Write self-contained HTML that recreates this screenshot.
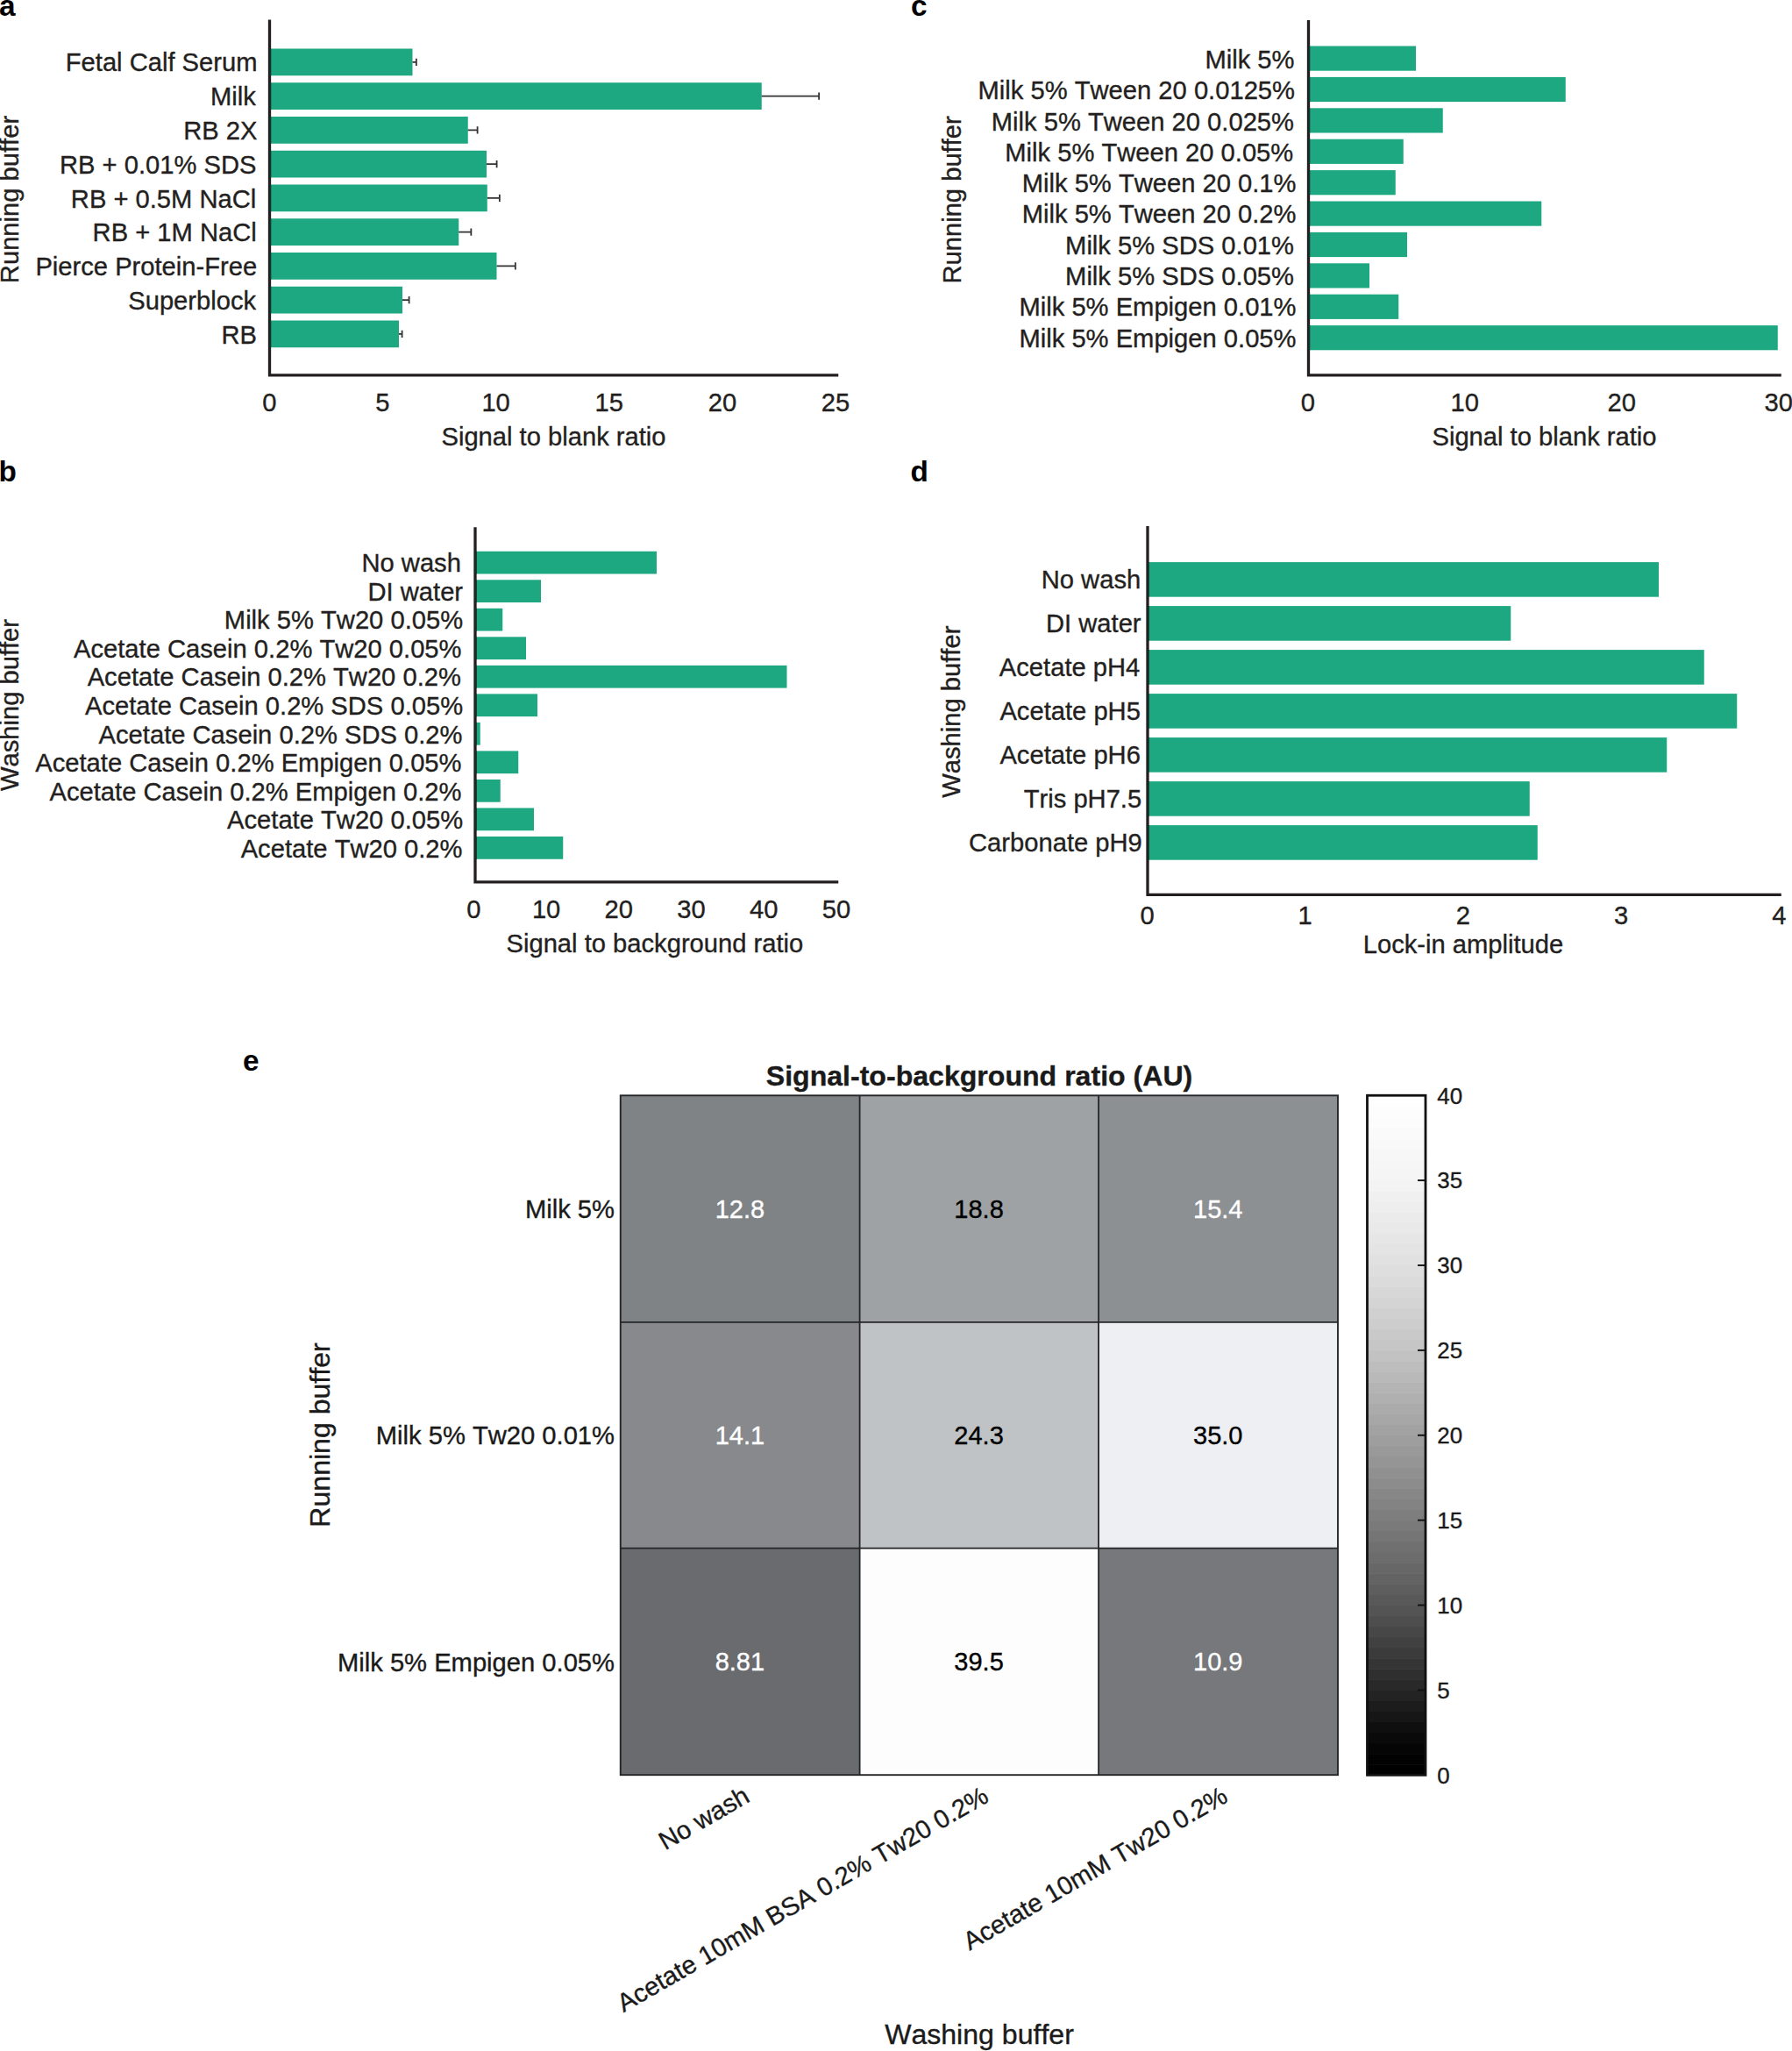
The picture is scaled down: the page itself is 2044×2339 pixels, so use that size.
<!DOCTYPE html>
<html lang="en"><head><meta charset="utf-8"><title>Figure</title>
<style>
html,body{margin:0;padding:0;background:#fff;}
body{width:2044px;height:2339px;overflow:hidden;}
svg{display:block;font-family:"Liberation Sans",Arial,Helvetica,sans-serif;font-kerning:none;}
text{stroke-width:0.35px;paint-order:stroke fill;}
</style></head><body>
<svg width="2044" height="2339" viewBox="0 0 2044 2339">
<rect width="2044" height="2339" fill="#ffffff"/>
<text x="-0.90" y="17.60" font-size="33.33" text-anchor="start" font-weight="700" fill="#000" stroke="#000" style="stroke-width:0">a</text>
<rect x="307.50" y="55.50" width="163.00" height="30.75" fill="#1da882"/>
<path d="M470.50,70.90 H474.85 M474.85,66.70 V75.10" stroke="#333" stroke-width="1.8" fill="none"/>
<text x="293.50" y="81.30" font-size="29.17" text-anchor="end" fill="#231f20" stroke="#231f20">Fetal Calf Serum</text>
<rect x="307.50" y="94.25" width="561.25" height="30.75" fill="#1da882"/>
<path d="M868.75,109.65 H934.10 M934.10,105.45 V113.85" stroke="#333" stroke-width="1.8" fill="none"/>
<text x="291.75" y="120.10" font-size="29.17" text-anchor="end" fill="#231f20" stroke="#231f20">Milk</text>
<rect x="307.50" y="133.00" width="226.25" height="30.75" fill="#1da882"/>
<path d="M533.75,148.40 H544.60 M544.60,144.20 V152.60" stroke="#333" stroke-width="1.8" fill="none"/>
<text x="293.50" y="158.90" font-size="29.17" text-anchor="end" fill="#231f20" stroke="#231f20">RB 2X</text>
<rect x="307.50" y="171.75" width="247.50" height="30.75" fill="#1da882"/>
<path d="M555.00,187.15 H566.60 M566.60,182.95 V191.35" stroke="#333" stroke-width="1.8" fill="none"/>
<text x="292.40" y="197.70" font-size="29.17" text-anchor="end" fill="#231f20" stroke="#231f20">RB + 0.01% SDS</text>
<rect x="307.50" y="210.50" width="248.25" height="30.75" fill="#1da882"/>
<path d="M555.75,225.90 H569.85 M569.85,221.70 V230.10" stroke="#333" stroke-width="1.8" fill="none"/>
<text x="292.30" y="236.50" font-size="29.17" text-anchor="end" fill="#231f20" stroke="#231f20">RB + 0.5M NaCl</text>
<rect x="307.50" y="249.25" width="215.75" height="30.75" fill="#1da882"/>
<path d="M523.25,264.65 H537.35 M537.35,260.45 V268.85" stroke="#333" stroke-width="1.8" fill="none"/>
<text x="292.75" y="275.30" font-size="29.17" text-anchor="end" fill="#231f20" stroke="#231f20">RB + 1M NaCl</text>
<rect x="307.50" y="288.00" width="259.00" height="30.75" fill="#1da882"/>
<path d="M566.50,303.40 H587.85 M587.85,299.20 V307.60" stroke="#333" stroke-width="1.8" fill="none"/>
<text x="293.20" y="314.10" font-size="29.17" text-anchor="end" fill="#231f20" stroke="#231f20">Pierce Protein-Free</text>
<rect x="307.50" y="326.75" width="151.50" height="30.75" fill="#1da882"/>
<path d="M459.00,342.15 H466.60 M466.60,337.95 V346.35" stroke="#333" stroke-width="1.8" fill="none"/>
<text x="292.10" y="352.90" font-size="29.17" text-anchor="end" fill="#231f20" stroke="#231f20">Superblock</text>
<rect x="307.50" y="365.50" width="147.50" height="30.75" fill="#1da882"/>
<path d="M455.00,380.90 H458.60 M458.60,376.70 V385.10" stroke="#333" stroke-width="1.8" fill="none"/>
<text x="293.00" y="391.70" font-size="29.17" text-anchor="end" fill="#231f20" stroke="#231f20">RB</text>
<path d="M307.50,22.50 V427.80 H956.25" fill="none" stroke="#231f20" stroke-width="3.3" stroke-linejoin="miter"/>
<rect x="307.85" y="55.50" width="1.3" height="30.75" fill="#10392e"/>
<rect x="307.85" y="94.25" width="1.3" height="30.75" fill="#10392e"/>
<rect x="307.85" y="133.00" width="1.3" height="30.75" fill="#10392e"/>
<rect x="307.85" y="171.75" width="1.3" height="30.75" fill="#10392e"/>
<rect x="307.85" y="210.50" width="1.3" height="30.75" fill="#10392e"/>
<rect x="307.85" y="249.25" width="1.3" height="30.75" fill="#10392e"/>
<rect x="307.85" y="288.00" width="1.3" height="30.75" fill="#10392e"/>
<rect x="307.85" y="326.75" width="1.3" height="30.75" fill="#10392e"/>
<rect x="307.85" y="365.50" width="1.3" height="30.75" fill="#10392e"/>
<text x="307.30" y="469.20" font-size="29.17" text-anchor="middle" fill="#231f20" stroke="#231f20">0</text>
<text x="436.45" y="469.20" font-size="29.17" text-anchor="middle" fill="#231f20" stroke="#231f20">5</text>
<text x="565.60" y="469.20" font-size="29.17" text-anchor="middle" fill="#231f20" stroke="#231f20">10</text>
<text x="694.75" y="469.20" font-size="29.17" text-anchor="middle" fill="#231f20" stroke="#231f20">15</text>
<text x="823.90" y="469.20" font-size="29.17" text-anchor="middle" fill="#231f20" stroke="#231f20">20</text>
<text x="953.05" y="469.20" font-size="29.17" text-anchor="middle" fill="#231f20" stroke="#231f20">25</text>
<text x="631.50" y="508.00" font-size="29.17" text-anchor="middle" fill="#231f20" stroke="#231f20">Signal to blank ratio</text>
<text transform="translate(21.10,227.50) rotate(-90)" font-size="29.17" text-anchor="middle" fill="#231f20" stroke="#231f20">Running buffer</text>
<text x="1039.00" y="18.00" font-size="33.33" text-anchor="start" font-weight="700" fill="#000" stroke="#000" style="stroke-width:0">c</text>
<rect x="1492.50" y="52.50" width="122.50" height="28.20" fill="#1da882"/>
<text x="1476.50" y="78.00" font-size="29.17" text-anchor="end" fill="#231f20" stroke="#231f20">Milk 5%</text>
<rect x="1492.50" y="87.90" width="293.25" height="28.20" fill="#1da882"/>
<text x="1477.00" y="113.28" font-size="29.17" text-anchor="end" fill="#231f20" stroke="#231f20">Milk 5% Tween 20 0.0125%</text>
<rect x="1492.50" y="123.30" width="153.25" height="28.20" fill="#1da882"/>
<text x="1476.00" y="148.56" font-size="29.17" text-anchor="end" fill="#231f20" stroke="#231f20">Milk 5% Tween 20 0.025%</text>
<rect x="1492.50" y="158.70" width="108.25" height="28.20" fill="#1da882"/>
<text x="1475.25" y="183.84" font-size="29.17" text-anchor="end" fill="#231f20" stroke="#231f20">Milk 5% Tween 20 0.05%</text>
<rect x="1492.50" y="194.10" width="99.25" height="28.20" fill="#1da882"/>
<text x="1478.50" y="219.12" font-size="29.17" text-anchor="end" fill="#231f20" stroke="#231f20">Milk 5% Tween 20 0.1%</text>
<rect x="1492.50" y="229.50" width="265.75" height="28.20" fill="#1da882"/>
<text x="1478.50" y="254.40" font-size="29.17" text-anchor="end" fill="#231f20" stroke="#231f20">Milk 5% Tween 20 0.2%</text>
<rect x="1492.50" y="264.90" width="112.50" height="28.20" fill="#1da882"/>
<text x="1476.00" y="289.68" font-size="29.17" text-anchor="end" fill="#231f20" stroke="#231f20">Milk 5% SDS 0.01%</text>
<rect x="1492.50" y="300.30" width="69.50" height="28.20" fill="#1da882"/>
<text x="1476.00" y="324.96" font-size="29.17" text-anchor="end" fill="#231f20" stroke="#231f20">Milk 5% SDS 0.05%</text>
<rect x="1492.50" y="335.70" width="102.75" height="28.20" fill="#1da882"/>
<text x="1478.50" y="360.24" font-size="29.17" text-anchor="end" fill="#231f20" stroke="#231f20">Milk 5% Empigen 0.01%</text>
<rect x="1492.50" y="371.10" width="535.25" height="28.20" fill="#1da882"/>
<text x="1478.50" y="395.52" font-size="29.17" text-anchor="end" fill="#231f20" stroke="#231f20">Milk 5% Empigen 0.05%</text>
<path d="M1492.50,23.00 V427.80 H2031.75" fill="none" stroke="#231f20" stroke-width="3.3" stroke-linejoin="miter"/>
<rect x="1492.85" y="52.50" width="1.3" height="28.20" fill="#10392e"/>
<rect x="1492.85" y="87.90" width="1.3" height="28.20" fill="#10392e"/>
<rect x="1492.85" y="123.30" width="1.3" height="28.20" fill="#10392e"/>
<rect x="1492.85" y="158.70" width="1.3" height="28.20" fill="#10392e"/>
<rect x="1492.85" y="194.10" width="1.3" height="28.20" fill="#10392e"/>
<rect x="1492.85" y="229.50" width="1.3" height="28.20" fill="#10392e"/>
<rect x="1492.85" y="264.90" width="1.3" height="28.20" fill="#10392e"/>
<rect x="1492.85" y="300.30" width="1.3" height="28.20" fill="#10392e"/>
<rect x="1492.85" y="335.70" width="1.3" height="28.20" fill="#10392e"/>
<rect x="1492.85" y="371.10" width="1.3" height="28.20" fill="#10392e"/>
<text x="1491.80" y="469.30" font-size="29.17" text-anchor="middle" fill="#231f20" stroke="#231f20">0</text>
<text x="1670.80" y="469.30" font-size="29.17" text-anchor="middle" fill="#231f20" stroke="#231f20">10</text>
<text x="1849.80" y="469.30" font-size="29.17" text-anchor="middle" fill="#231f20" stroke="#231f20">20</text>
<text x="2028.80" y="469.30" font-size="29.17" text-anchor="middle" fill="#231f20" stroke="#231f20">30</text>
<text x="1761.50" y="508.00" font-size="29.17" text-anchor="middle" fill="#231f20" stroke="#231f20">Signal to blank ratio</text>
<text transform="translate(1096.10,227.90) rotate(-90)" font-size="29.17" text-anchor="middle" fill="#231f20" stroke="#231f20">Running buffer</text>
<text x="-1.50" y="548.75" font-size="33.33" text-anchor="start" font-weight="700" fill="#000" stroke="#000" style="stroke-width:0">b</text>
<rect x="542.00" y="628.75" width="207.00" height="25.75" fill="#1da882"/>
<text x="525.90" y="652.20" font-size="29.17" text-anchor="end" fill="#231f20" stroke="#231f20">No wash</text>
<rect x="542.00" y="661.27" width="75.00" height="25.75" fill="#1da882"/>
<text x="528.10" y="684.76" font-size="29.17" text-anchor="end" fill="#231f20" stroke="#231f20">DI water</text>
<rect x="542.00" y="693.80" width="31.25" height="25.75" fill="#1da882"/>
<text x="528.10" y="717.32" font-size="29.17" text-anchor="end" fill="#231f20" stroke="#231f20">Milk 5% Tw20 0.05%</text>
<rect x="542.00" y="726.33" width="58.00" height="25.75" fill="#1da882"/>
<text x="526.50" y="749.88" font-size="29.17" text-anchor="end" fill="#231f20" stroke="#231f20">Acetate Casein 0.2% Tw20 0.05%</text>
<rect x="542.00" y="758.85" width="355.50" height="25.75" fill="#1da882"/>
<text x="525.90" y="782.44" font-size="29.17" text-anchor="end" fill="#231f20" stroke="#231f20">Acetate Casein 0.2% Tw20 0.2%</text>
<rect x="542.00" y="791.38" width="71.00" height="25.75" fill="#1da882"/>
<text x="528.10" y="815.00" font-size="29.17" text-anchor="end" fill="#231f20" stroke="#231f20">Acetate Casein 0.2% SDS 0.05%</text>
<rect x="542.00" y="823.90" width="5.75" height="25.75" fill="#1da882"/>
<text x="527.50" y="847.56" font-size="29.17" text-anchor="end" fill="#231f20" stroke="#231f20">Acetate Casein 0.2% SDS 0.2%</text>
<rect x="542.00" y="856.42" width="49.25" height="25.75" fill="#1da882"/>
<text x="526.50" y="880.12" font-size="29.17" text-anchor="end" fill="#231f20" stroke="#231f20">Acetate Casein 0.2% Empigen 0.05%</text>
<rect x="542.00" y="888.95" width="28.75" height="25.75" fill="#1da882"/>
<text x="526.50" y="912.68" font-size="29.17" text-anchor="end" fill="#231f20" stroke="#231f20">Acetate Casein 0.2% Empigen 0.2%</text>
<rect x="542.00" y="921.47" width="67.00" height="25.75" fill="#1da882"/>
<text x="528.10" y="945.24" font-size="29.17" text-anchor="end" fill="#231f20" stroke="#231f20">Acetate Tw20 0.05%</text>
<rect x="542.00" y="954.00" width="100.25" height="25.75" fill="#1da882"/>
<text x="527.50" y="977.80" font-size="29.17" text-anchor="end" fill="#231f20" stroke="#231f20">Acetate Tw20 0.2%</text>
<path d="M542.00,601.25 V1005.90 H956.25" fill="none" stroke="#231f20" stroke-width="3.3" stroke-linejoin="miter"/>
<rect x="542.35" y="628.75" width="1.3" height="25.75" fill="#10392e"/>
<rect x="542.35" y="661.27" width="1.3" height="25.75" fill="#10392e"/>
<rect x="542.35" y="693.80" width="1.3" height="25.75" fill="#10392e"/>
<rect x="542.35" y="726.33" width="1.3" height="25.75" fill="#10392e"/>
<rect x="542.35" y="758.85" width="1.3" height="25.75" fill="#10392e"/>
<rect x="542.35" y="791.38" width="1.3" height="25.75" fill="#10392e"/>
<rect x="542.35" y="823.90" width="1.3" height="25.75" fill="#10392e"/>
<rect x="542.35" y="856.42" width="1.3" height="25.75" fill="#10392e"/>
<rect x="542.35" y="888.95" width="1.3" height="25.75" fill="#10392e"/>
<rect x="542.35" y="921.47" width="1.3" height="25.75" fill="#10392e"/>
<rect x="542.35" y="954.00" width="1.3" height="25.75" fill="#10392e"/>
<text x="540.40" y="1047.10" font-size="29.17" text-anchor="middle" fill="#231f20" stroke="#231f20">0</text>
<text x="623.10" y="1047.10" font-size="29.17" text-anchor="middle" fill="#231f20" stroke="#231f20">10</text>
<text x="705.80" y="1047.10" font-size="29.17" text-anchor="middle" fill="#231f20" stroke="#231f20">20</text>
<text x="788.50" y="1047.10" font-size="29.17" text-anchor="middle" fill="#231f20" stroke="#231f20">30</text>
<text x="871.20" y="1047.10" font-size="29.17" text-anchor="middle" fill="#231f20" stroke="#231f20">40</text>
<text x="953.90" y="1047.10" font-size="29.17" text-anchor="middle" fill="#231f20" stroke="#231f20">50</text>
<text x="746.90" y="1086.25" font-size="29.17" text-anchor="middle" fill="#231f20" stroke="#231f20">Signal to background ratio</text>
<text transform="translate(21.25,804.00) rotate(-90)" font-size="29.17" text-anchor="middle" fill="#231f20" stroke="#231f20">Washing buffer</text>
<text x="1038.50" y="549.25" font-size="33.33" text-anchor="start" font-weight="700" fill="#000" stroke="#000" style="stroke-width:0">d</text>
<rect x="1309.00" y="641.10" width="583.00" height="39.60" fill="#1da882"/>
<text x="1301.20" y="671.40" font-size="29.17" text-anchor="end" fill="#231f20" stroke="#231f20">No wash</text>
<rect x="1309.00" y="691.10" width="414.25" height="39.60" fill="#1da882"/>
<text x="1301.60" y="721.35" font-size="29.17" text-anchor="end" fill="#231f20" stroke="#231f20">DI water</text>
<rect x="1309.00" y="741.10" width="634.75" height="39.60" fill="#1da882"/>
<text x="1300.30" y="771.30" font-size="29.17" text-anchor="end" fill="#231f20" stroke="#231f20">Acetate pH4</text>
<rect x="1309.00" y="791.10" width="672.25" height="39.60" fill="#1da882"/>
<text x="1300.90" y="821.25" font-size="29.17" text-anchor="end" fill="#231f20" stroke="#231f20">Acetate pH5</text>
<rect x="1309.00" y="841.10" width="592.25" height="39.60" fill="#1da882"/>
<text x="1300.90" y="871.20" font-size="29.17" text-anchor="end" fill="#231f20" stroke="#231f20">Acetate pH6</text>
<rect x="1309.00" y="891.10" width="435.75" height="39.60" fill="#1da882"/>
<text x="1302.20" y="921.15" font-size="29.17" text-anchor="end" fill="#231f20" stroke="#231f20">Tris pH7.5</text>
<rect x="1309.00" y="941.10" width="444.75" height="39.60" fill="#1da882"/>
<text x="1302.80" y="971.10" font-size="29.17" text-anchor="end" fill="#231f20" stroke="#231f20">Carbonate pH9</text>
<path d="M1309.00,600.00 V1020.30 H2031.75" fill="none" stroke="#231f20" stroke-width="3.3" stroke-linejoin="miter"/>
<rect x="1309.35" y="641.10" width="1.3" height="39.60" fill="#10392e"/>
<rect x="1309.35" y="691.10" width="1.3" height="39.60" fill="#10392e"/>
<rect x="1309.35" y="741.10" width="1.3" height="39.60" fill="#10392e"/>
<rect x="1309.35" y="791.10" width="1.3" height="39.60" fill="#10392e"/>
<rect x="1309.35" y="841.10" width="1.3" height="39.60" fill="#10392e"/>
<rect x="1309.35" y="891.10" width="1.3" height="39.60" fill="#10392e"/>
<rect x="1309.35" y="941.10" width="1.3" height="39.60" fill="#10392e"/>
<text x="1308.50" y="1053.70" font-size="29.17" text-anchor="middle" fill="#231f20" stroke="#231f20">0</text>
<text x="1488.70" y="1053.70" font-size="29.17" text-anchor="middle" fill="#231f20" stroke="#231f20">1</text>
<text x="1668.90" y="1053.70" font-size="29.17" text-anchor="middle" fill="#231f20" stroke="#231f20">2</text>
<text x="1849.10" y="1053.70" font-size="29.17" text-anchor="middle" fill="#231f20" stroke="#231f20">3</text>
<text x="2029.30" y="1053.70" font-size="29.17" text-anchor="middle" fill="#231f20" stroke="#231f20">4</text>
<text x="1669.00" y="1086.80" font-size="29.17" text-anchor="middle" fill="#231f20" stroke="#231f20">Lock-in amplitude</text>
<text transform="translate(1095.30,811.70) rotate(-90)" font-size="29.17" text-anchor="middle" fill="#231f20" stroke="#231f20">Washing buffer</text>
<text x="277.00" y="1221.00" font-size="33.33" text-anchor="start" font-weight="700" fill="#000" stroke="#000" style="stroke-width:0">e</text>
<rect x="707.75" y="1249.30" width="272.85" height="258.50" fill="#808386"/>
<rect x="980.60" y="1249.30" width="272.50" height="258.50" fill="#9fa2a4"/>
<rect x="1253.10" y="1249.30" width="272.90" height="258.50" fill="#8d9093"/>
<rect x="707.75" y="1507.80" width="272.85" height="257.80" fill="#87898c"/>
<rect x="980.60" y="1507.80" width="272.50" height="257.80" fill="#c0c3c5"/>
<rect x="1253.10" y="1507.80" width="272.90" height="257.80" fill="#edeff2"/>
<rect x="707.75" y="1765.60" width="272.85" height="258.60" fill="#696b6e"/>
<rect x="980.60" y="1765.60" width="272.50" height="258.60" fill="#fdfdfd"/>
<rect x="1253.10" y="1765.60" width="272.90" height="258.60" fill="#76787b"/>
<path d="M980.60,1249.30 V2024.20" stroke="#242527" stroke-width="1.8"/>
<path d="M1253.10,1249.30 V2024.20" stroke="#242527" stroke-width="1.8"/>
<path d="M707.75,1507.80 H1526.00" stroke="#242527" stroke-width="1.8"/>
<path d="M707.75,1765.60 H1526.00" stroke="#242527" stroke-width="1.8"/>
<rect x="707.75" y="1249.30" width="818.25" height="774.90" fill="none" stroke="#242527" stroke-width="1.9"/>
<text x="843.88" y="1388.55" font-size="29.0" text-anchor="middle" fill="#ffffff" stroke="#ffffff">12.8</text>
<text x="1116.55" y="1388.55" font-size="29.0" text-anchor="middle" fill="#000000" stroke="#000000">18.8</text>
<text x="1389.25" y="1388.55" font-size="29.0" text-anchor="middle" fill="#ffffff" stroke="#ffffff">15.4</text>
<text x="843.88" y="1646.70" font-size="29.0" text-anchor="middle" fill="#ffffff" stroke="#ffffff">14.1</text>
<text x="1116.55" y="1646.70" font-size="29.0" text-anchor="middle" fill="#000000" stroke="#000000">24.3</text>
<text x="1389.25" y="1646.70" font-size="29.0" text-anchor="middle" fill="#000000" stroke="#000000">35.0</text>
<text x="843.88" y="1904.90" font-size="29.0" text-anchor="middle" fill="#ffffff" stroke="#ffffff">8.81</text>
<text x="1116.55" y="1904.90" font-size="29.0" text-anchor="middle" fill="#000000" stroke="#000000">39.5</text>
<text x="1389.25" y="1904.90" font-size="29.0" text-anchor="middle" fill="#ffffff" stroke="#ffffff">10.9</text>
<text x="701.00" y="1389.15" font-size="29.17" text-anchor="end" fill="#1a1a1a" stroke="#1a1a1a">Milk 5%</text>
<text x="701.00" y="1647.30" font-size="29.17" text-anchor="end" fill="#1a1a1a" stroke="#1a1a1a">Milk 5% Tw20 0.01%</text>
<text x="701.00" y="1905.50" font-size="29.17" text-anchor="end" fill="#1a1a1a" stroke="#1a1a1a">Milk 5% Empigen 0.05%</text>
<text x="1117.00" y="1237.50" font-size="32.1" text-anchor="middle" font-weight="700" fill="#1a1a1a" stroke="#1a1a1a">Signal-to-background ratio (AU)</text>
<text transform="translate(856.88,2053.70) rotate(-30)" font-size="29.17" text-anchor="end" fill="#1a1a1a" stroke="#1a1a1a">No wash</text>
<text transform="translate(1129.55,2053.70) rotate(-30)" font-size="29.17" text-anchor="end" fill="#1a1a1a" stroke="#1a1a1a">Acetate 10mM BSA 0.2% Tw20 0.2%</text>
<text transform="translate(1402.25,2053.70) rotate(-30)" font-size="29.17" text-anchor="end" fill="#1a1a1a" stroke="#1a1a1a">Acetate 10mM Tw20 0.2%</text>
<text x="1117.00" y="2330.80" font-size="32.1" text-anchor="middle" fill="#1a1a1a" stroke="#1a1a1a">Washing buffer</text>
<text transform="translate(375.50,1636.50) rotate(-90)" font-size="32.1" text-anchor="middle" fill="#1a1a1a" stroke="#1a1a1a">Running buffer</text>
<rect x="1559.5" y="2012.19" width="66.5" height="12.71" fill="rgb(1,1,1)"/>
<rect x="1559.5" y="2000.08" width="66.5" height="12.71" fill="rgb(2,2,2)"/>
<rect x="1559.5" y="1987.97" width="66.5" height="12.71" fill="rgb(5,5,5)"/>
<rect x="1559.5" y="1975.86" width="66.5" height="12.71" fill="rgb(10,10,10)"/>
<rect x="1559.5" y="1963.75" width="66.5" height="12.71" fill="rgb(15,15,15)"/>
<rect x="1559.5" y="1951.64" width="66.5" height="12.71" fill="rgb(22,22,22)"/>
<rect x="1559.5" y="1939.53" width="66.5" height="12.71" fill="rgb(28,28,28)"/>
<rect x="1559.5" y="1927.42" width="66.5" height="12.71" fill="rgb(35,35,35)"/>
<rect x="1559.5" y="1915.31" width="66.5" height="12.71" fill="rgb(41,41,41)"/>
<rect x="1559.5" y="1903.20" width="66.5" height="12.71" fill="rgb(47,47,47)"/>
<rect x="1559.5" y="1891.09" width="66.5" height="12.71" fill="rgb(53,53,53)"/>
<rect x="1559.5" y="1878.98" width="66.5" height="12.71" fill="rgb(59,59,59)"/>
<rect x="1559.5" y="1866.87" width="66.5" height="12.71" fill="rgb(65,65,65)"/>
<rect x="1559.5" y="1854.76" width="66.5" height="12.71" fill="rgb(71,71,71)"/>
<rect x="1559.5" y="1842.65" width="66.5" height="12.71" fill="rgb(78,78,78)"/>
<rect x="1559.5" y="1830.54" width="66.5" height="12.71" fill="rgb(84,84,84)"/>
<rect x="1559.5" y="1818.43" width="66.5" height="12.71" fill="rgb(89,89,89)"/>
<rect x="1559.5" y="1806.32" width="66.5" height="12.71" fill="rgb(94,94,94)"/>
<rect x="1559.5" y="1794.21" width="66.5" height="12.71" fill="rgb(99,99,99)"/>
<rect x="1559.5" y="1782.10" width="66.5" height="12.71" fill="rgb(103,103,103)"/>
<rect x="1559.5" y="1769.99" width="66.5" height="12.71" fill="rgb(108,108,108)"/>
<rect x="1559.5" y="1757.88" width="66.5" height="12.71" fill="rgb(112,112,112)"/>
<rect x="1559.5" y="1745.77" width="66.5" height="12.71" fill="rgb(117,117,117)"/>
<rect x="1559.5" y="1733.66" width="66.5" height="12.71" fill="rgb(122,122,122)"/>
<rect x="1559.5" y="1721.55" width="66.5" height="12.71" fill="rgb(126,126,126)"/>
<rect x="1559.5" y="1709.44" width="66.5" height="12.71" fill="rgb(131,131,131)"/>
<rect x="1559.5" y="1697.33" width="66.5" height="12.71" fill="rgb(135,135,135)"/>
<rect x="1559.5" y="1685.22" width="66.5" height="12.71" fill="rgb(140,140,140)"/>
<rect x="1559.5" y="1673.11" width="66.5" height="12.71" fill="rgb(144,144,144)"/>
<rect x="1559.5" y="1661.00" width="66.5" height="12.71" fill="rgb(149,149,149)"/>
<rect x="1559.5" y="1648.89" width="66.5" height="12.71" fill="rgb(153,153,153)"/>
<rect x="1559.5" y="1636.78" width="66.5" height="12.71" fill="rgb(158,158,158)"/>
<rect x="1559.5" y="1624.66" width="66.5" height="12.71" fill="rgb(162,162,162)"/>
<rect x="1559.5" y="1612.55" width="66.5" height="12.71" fill="rgb(167,167,167)"/>
<rect x="1559.5" y="1600.44" width="66.5" height="12.71" fill="rgb(171,171,171)"/>
<rect x="1559.5" y="1588.33" width="66.5" height="12.71" fill="rgb(176,176,176)"/>
<rect x="1559.5" y="1576.22" width="66.5" height="12.71" fill="rgb(180,180,180)"/>
<rect x="1559.5" y="1564.11" width="66.5" height="12.71" fill="rgb(185,185,185)"/>
<rect x="1559.5" y="1552.00" width="66.5" height="12.71" fill="rgb(189,189,189)"/>
<rect x="1559.5" y="1539.89" width="66.5" height="12.71" fill="rgb(194,194,194)"/>
<rect x="1559.5" y="1527.78" width="66.5" height="12.71" fill="rgb(198,198,198)"/>
<rect x="1559.5" y="1515.67" width="66.5" height="12.71" fill="rgb(201,201,201)"/>
<rect x="1559.5" y="1503.56" width="66.5" height="12.71" fill="rgb(205,205,205)"/>
<rect x="1559.5" y="1491.45" width="66.5" height="12.71" fill="rgb(208,208,208)"/>
<rect x="1559.5" y="1479.34" width="66.5" height="12.71" fill="rgb(212,212,212)"/>
<rect x="1559.5" y="1467.23" width="66.5" height="12.71" fill="rgb(215,215,215)"/>
<rect x="1559.5" y="1455.12" width="66.5" height="12.71" fill="rgb(219,219,219)"/>
<rect x="1559.5" y="1443.01" width="66.5" height="12.71" fill="rgb(222,222,222)"/>
<rect x="1559.5" y="1430.90" width="66.5" height="12.71" fill="rgb(225,225,225)"/>
<rect x="1559.5" y="1418.79" width="66.5" height="12.71" fill="rgb(228,228,228)"/>
<rect x="1559.5" y="1406.68" width="66.5" height="12.71" fill="rgb(230,230,230)"/>
<rect x="1559.5" y="1394.57" width="66.5" height="12.71" fill="rgb(233,233,233)"/>
<rect x="1559.5" y="1382.46" width="66.5" height="12.71" fill="rgb(235,235,235)"/>
<rect x="1559.5" y="1370.35" width="66.5" height="12.71" fill="rgb(238,238,238)"/>
<rect x="1559.5" y="1358.24" width="66.5" height="12.71" fill="rgb(240,240,240)"/>
<rect x="1559.5" y="1346.13" width="66.5" height="12.71" fill="rgb(243,243,243)"/>
<rect x="1559.5" y="1334.02" width="66.5" height="12.71" fill="rgb(245,245,245)"/>
<rect x="1559.5" y="1321.91" width="66.5" height="12.71" fill="rgb(246,246,246)"/>
<rect x="1559.5" y="1309.80" width="66.5" height="12.71" fill="rgb(247,247,247)"/>
<rect x="1559.5" y="1297.69" width="66.5" height="12.71" fill="rgb(249,249,249)"/>
<rect x="1559.5" y="1285.58" width="66.5" height="12.71" fill="rgb(250,250,250)"/>
<rect x="1559.5" y="1273.47" width="66.5" height="12.71" fill="rgb(252,252,252)"/>
<rect x="1559.5" y="1261.36" width="66.5" height="12.71" fill="rgb(253,253,253)"/>
<rect x="1559.5" y="1249.25" width="66.5" height="12.71" fill="rgb(254,254,254)"/>
<rect x="1559.5" y="1249.25" width="66.5" height="775.05" fill="none" stroke="#111" stroke-width="2.8"/>
<text x="1639.30" y="2033.60" font-size="25.9" text-anchor="start" fill="#1a1a1a" stroke="#1a1a1a">0</text>
<path d="M1617.00,1927.42 H1626.00" stroke="#111" stroke-width="1.9"/>
<text x="1639.30" y="1936.72" font-size="25.9" text-anchor="start" fill="#1a1a1a" stroke="#1a1a1a">5</text>
<path d="M1617.00,1830.54 H1626.00" stroke="#111" stroke-width="1.9"/>
<text x="1639.30" y="1839.84" font-size="25.9" text-anchor="start" fill="#1a1a1a" stroke="#1a1a1a">10</text>
<path d="M1617.00,1733.66 H1626.00" stroke="#111" stroke-width="1.9"/>
<text x="1639.30" y="1742.96" font-size="25.9" text-anchor="start" fill="#1a1a1a" stroke="#1a1a1a">15</text>
<path d="M1617.00,1636.78 H1626.00" stroke="#111" stroke-width="1.9"/>
<text x="1639.30" y="1646.08" font-size="25.9" text-anchor="start" fill="#1a1a1a" stroke="#1a1a1a">20</text>
<path d="M1617.00,1539.89 H1626.00" stroke="#111" stroke-width="1.9"/>
<text x="1639.30" y="1549.19" font-size="25.9" text-anchor="start" fill="#1a1a1a" stroke="#1a1a1a">25</text>
<path d="M1617.00,1443.01 H1626.00" stroke="#111" stroke-width="1.9"/>
<text x="1639.30" y="1452.31" font-size="25.9" text-anchor="start" fill="#1a1a1a" stroke="#1a1a1a">30</text>
<path d="M1617.00,1346.13 H1626.00" stroke="#111" stroke-width="1.9"/>
<text x="1639.30" y="1355.43" font-size="25.9" text-anchor="start" fill="#1a1a1a" stroke="#1a1a1a">35</text>
<text x="1639.30" y="1258.55" font-size="25.9" text-anchor="start" fill="#1a1a1a" stroke="#1a1a1a">40</text>
</svg>
</body></html>
